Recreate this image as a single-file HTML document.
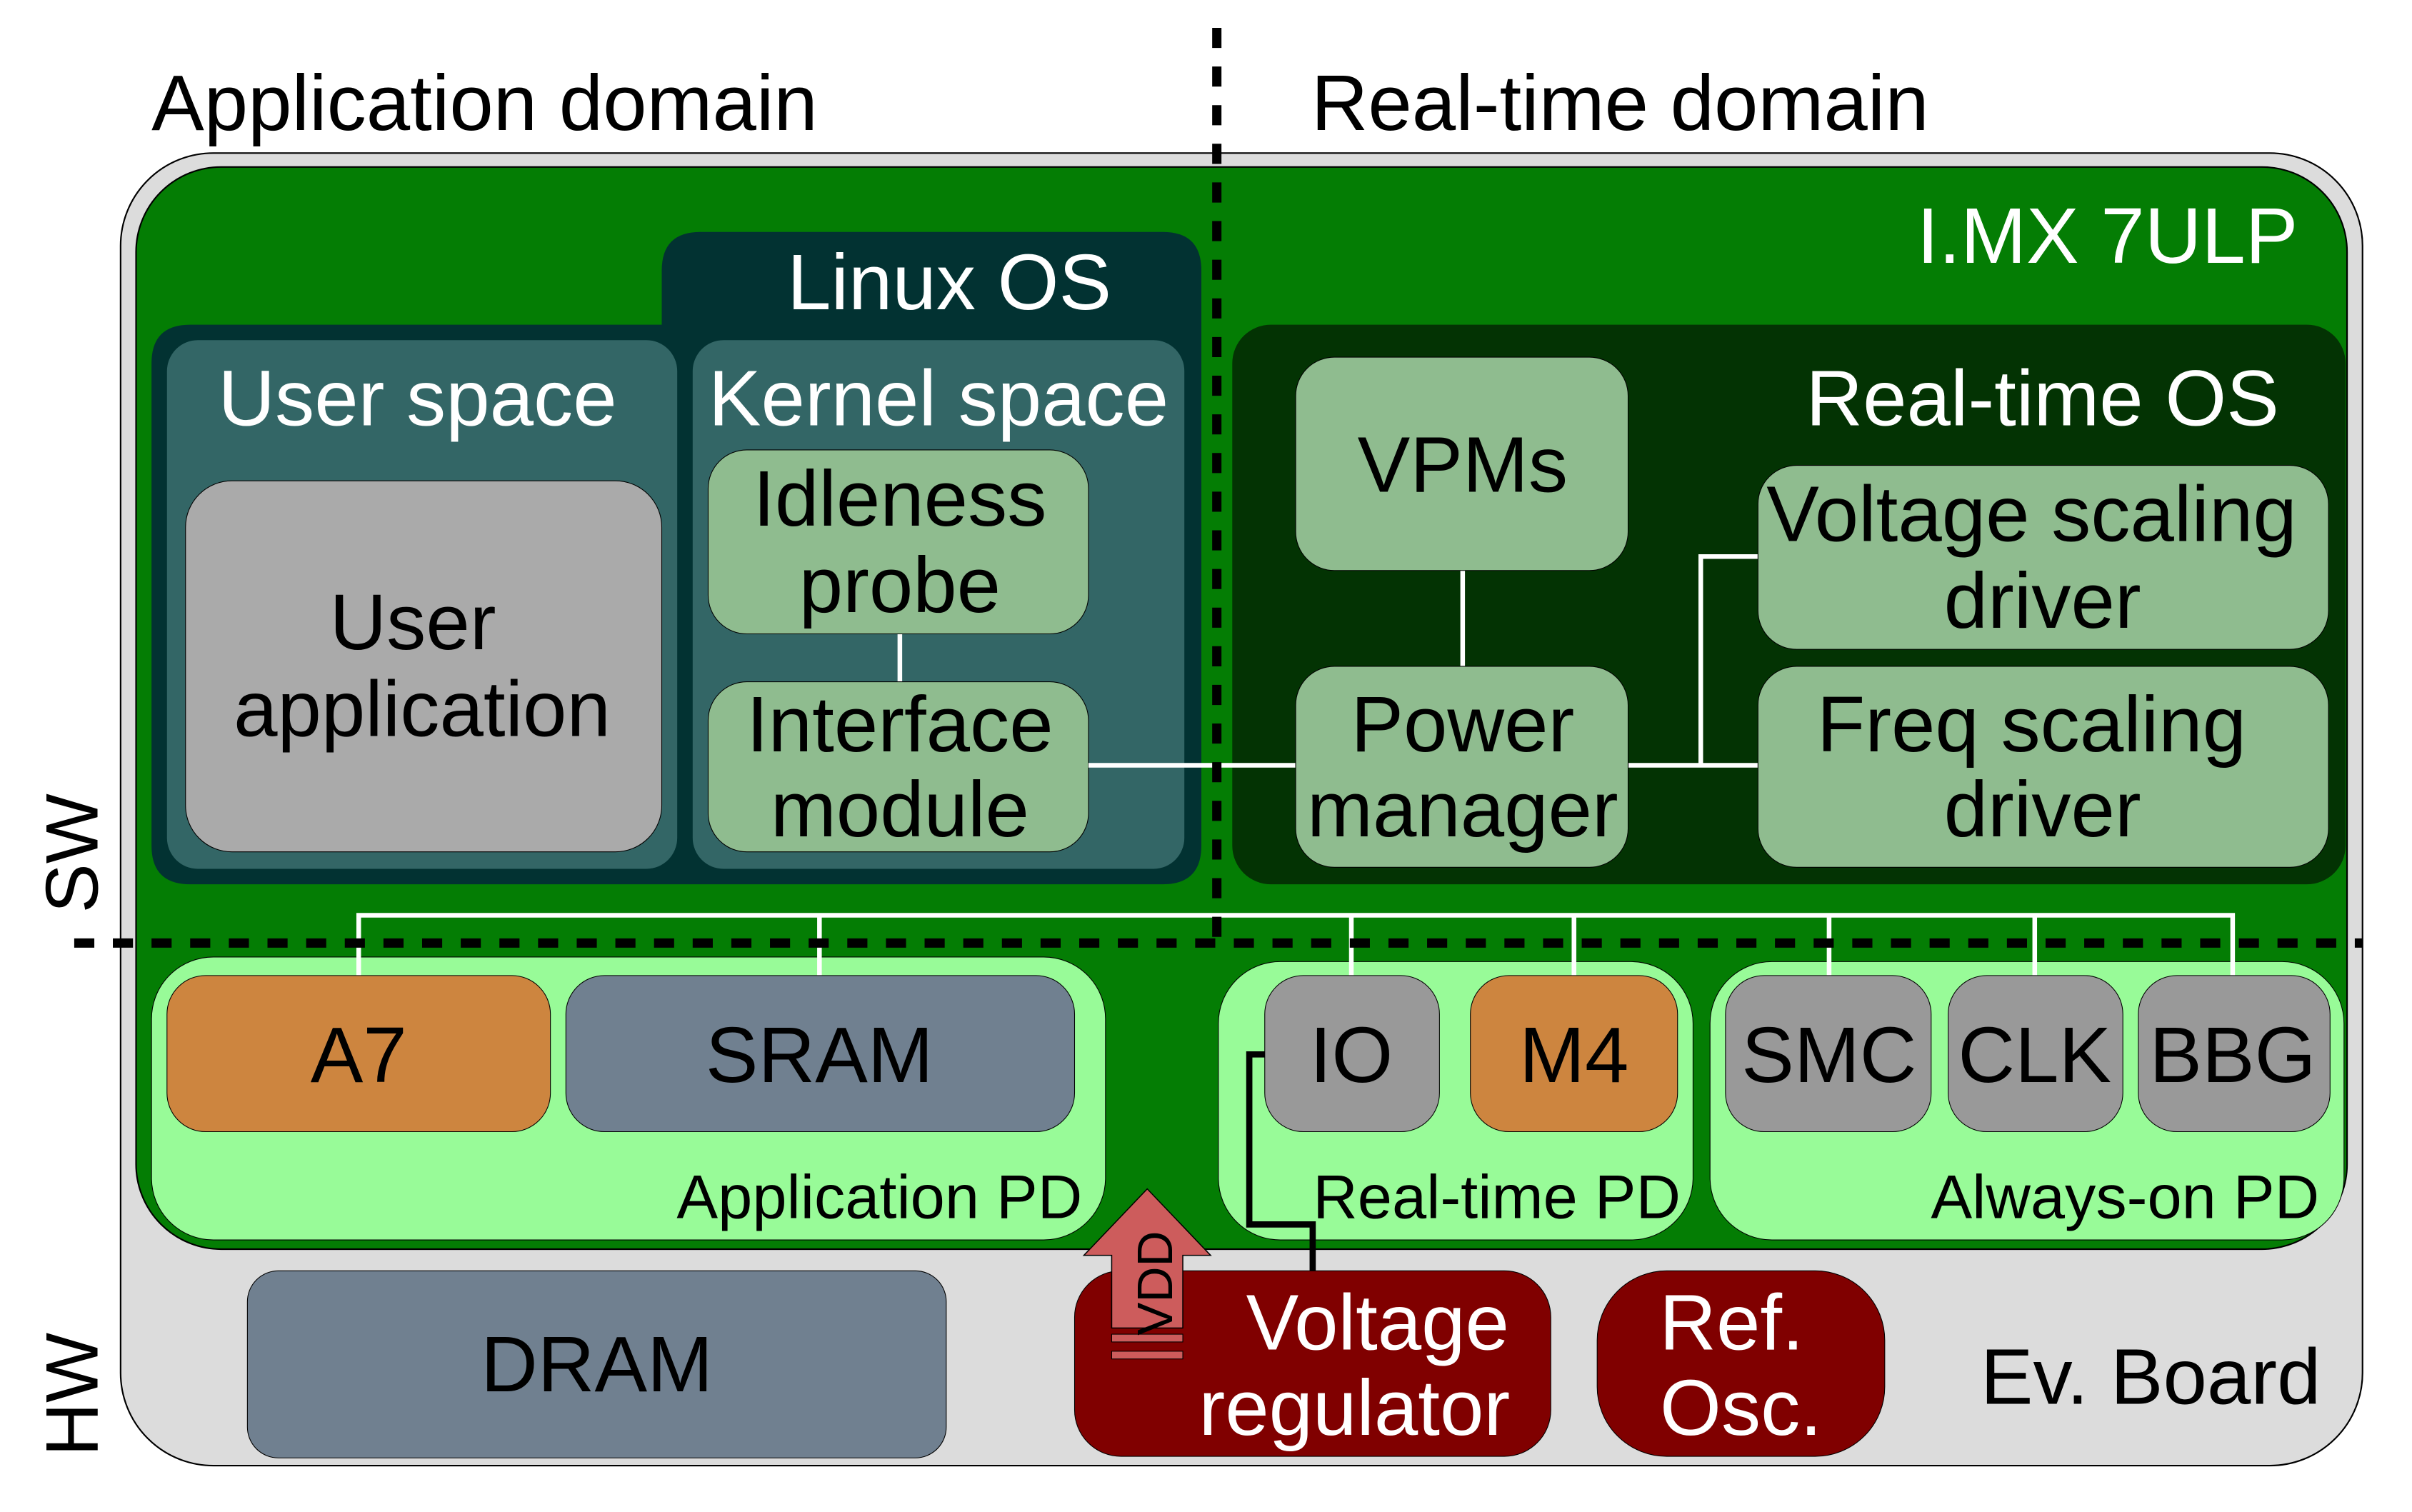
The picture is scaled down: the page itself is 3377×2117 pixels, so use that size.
<!DOCTYPE html>
<html><head><meta charset="utf-8"><style>html,body{margin:0;padding:0;background:#fff}svg{display:block}text{font-family:"Liberation Sans",sans-serif}</style></head>
<body>
<svg width="3377" height="2117" viewBox="0 0 1560 978" preserveAspectRatio="none" xmlns="http://www.w3.org/2000/svg">
<rect x="0" y="0" width="1560" height="978" fill="#fff"/>
<rect x="78" y="99" width="1450" height="849" rx="60" fill="#dcdcdc" stroke="#000" stroke-width="1"/>
<rect x="88" y="108" width="1430" height="700" rx="55" fill="#047d04" stroke="#000" stroke-width="1"/>
<path d="M453,150 H752 Q777,150 777,175 V547 Q777,572 752,572 H123 Q98,572 98,547 V235 Q98,210 123,210 H428 V175 Q428,150 453,150 Z" fill="#023232"/>
<rect x="108" y="220" width="330" height="342" rx="20" fill="#336666"/>
<rect x="448" y="220" width="318" height="342" rx="20" fill="#336666"/>
<rect x="120" y="311" width="308" height="240" rx="30" fill="#aaaaaa" stroke="#000" stroke-width="0.5"/>
<line x1="582" y1="405" x2="582" y2="445" stroke="#fff" stroke-width="3"/>
<rect x="458" y="291" width="246" height="119" rx="25" fill="#8fbc8f" stroke="#000" stroke-width="0.5"/>
<rect x="458" y="441" width="246" height="110" rx="25" fill="#8fbc8f" stroke="#000" stroke-width="0.5"/>
<rect x="797" y="210" width="720" height="362" rx="25" fill="#033303"/>
<g stroke="#fff" stroke-width="3" fill="none">
<line x1="704" y1="495" x2="840" y2="495"/>
<line x1="946" y1="365" x2="946" y2="433"/>
<line x1="1052" y1="495" x2="1139" y2="495"/>
<polyline points="1100,495 1100,360 1139,360"/>
</g>
<rect x="838" y="231" width="215" height="138" rx="25" fill="#8fbc8f" stroke="#000" stroke-width="0.5"/>
<rect x="838" y="431" width="215" height="130" rx="25" fill="#8fbc8f" stroke="#000" stroke-width="0.5"/>
<rect x="1137" y="301" width="369" height="119" rx="25" fill="#8fbc8f" stroke="#000" stroke-width="0.5"/>
<rect x="1137" y="431" width="369" height="130" rx="25" fill="#8fbc8f" stroke="#000" stroke-width="0.5"/>
<rect x="98" y="619" width="617" height="183" rx="40" fill="#98fb98" stroke="#000" stroke-width="0.5"/>
<rect x="788" y="622" width="307" height="180" rx="40" fill="#98fb98" stroke="#000" stroke-width="0.5"/>
<rect x="1106" y="622" width="410" height="180" rx="40" fill="#98fb98" stroke="#000" stroke-width="0.5"/>
<g stroke="#fff" stroke-width="3" fill="none">
<polyline points="232,633 232,592 1444,592 1444,633"/>
<line x1="530" y1="592" x2="530" y2="633"/>
<line x1="874" y1="592" x2="874" y2="633"/>
<line x1="1018" y1="592" x2="1018" y2="633"/>
<line x1="1183" y1="592" x2="1183" y2="633"/>
<line x1="1316" y1="592" x2="1316" y2="633"/>
</g>
<rect x="108" y="631" width="248" height="101" rx="25" fill="#cd853f" stroke="#000" stroke-width="0.5"/>
<rect x="366" y="631" width="329" height="101" rx="25" fill="#708090" stroke="#000" stroke-width="0.5"/>
<rect x="818" y="631" width="113" height="101" rx="25" fill="#999999" stroke="#000" stroke-width="0.5"/>
<rect x="951" y="631" width="134" height="101" rx="25" fill="#cd853f" stroke="#000" stroke-width="0.5"/>
<rect x="1116" y="631" width="133" height="101" rx="25" fill="#999999" stroke="#000" stroke-width="0.5"/>
<rect x="1260" y="631" width="113" height="101" rx="25" fill="#999999" stroke="#000" stroke-width="0.5"/>
<rect x="1383" y="631" width="124" height="101" rx="25" fill="#999999" stroke="#000" stroke-width="0.5"/>
<rect x="160" y="822" width="452" height="121" rx="20" fill="#708090" stroke="#000" stroke-width="0.5"/>
<rect x="695" y="822" width="308" height="120" rx="30" fill="#800000" stroke="#000" stroke-width="0.5"/>
<rect x="1033" y="822" width="186" height="120" rx="45" fill="#800000" stroke="#000" stroke-width="0.5"/>
<polyline points="818,682 808,682 808,792 849,792 849,822" fill="none" stroke="#000" stroke-width="4"/>
<path d="M742,769 L783,812 L765,812 L765,859 L719,859 L719,812 L701,812 Z" fill="#cd5c5c" stroke="#000" stroke-width="0.7"/>
<rect x="719" y="863" width="46" height="5" fill="#cd5c5c" stroke="#000" stroke-width="0.5"/>
<rect x="719" y="874" width="46" height="5" fill="#cd5c5c" stroke="#000" stroke-width="0.5"/>
<text transform="translate(758,830) rotate(-90)" font-size="32" text-anchor="middle" fill="#000">VDD</text>
<line x1="787" y1="18" x2="787" y2="612" stroke="#000" stroke-width="6" stroke-dasharray="13,12"/>
<line x1="48" y1="610" x2="1528" y2="610" stroke="#000" stroke-width="6" stroke-dasharray="13,12"/>
<g font-size="51" fill="#000">
<text x="98" y="84">Application domain</text>
<text x="848" y="84">Real-time domain</text>
</g>
<g fill="#fff" font-size="51" text-anchor="middle">
<text x="1363" y="170">I.MX 7ULP</text>
<text x="614" y="200">Linux OS</text>
<text x="270" y="275">User space</text>
<text x="607" y="275">Kernel space</text>
<text x="1321" y="275">Real-time OS</text>
<text x="891" y="873">Voltage</text>
<text x="876" y="928">regulator</text>
<text x="1120" y="873">Ref.</text>
<text x="1126" y="928">Osc.</text>
</g>
<g fill="#000" font-size="51" text-anchor="middle">
<text x="267" y="420">User</text>
<text x="273" y="476">application</text>
<text x="582" y="340">Idleness</text>
<text x="582" y="396">probe</text>
<text x="582" y="486">Interface</text>
<text x="582" y="541">module</text>
<text x="946" y="318">VPMs</text>
<text x="946" y="486">Power</text>
<text x="946" y="541">manager</text>
<text x="1314" y="350">Voltage scaling</text>
<text x="1321" y="406">driver</text>
<text x="1314" y="486">Freq scaling</text>
<text x="1321" y="541">driver</text>
<text x="232" y="700">A7</text>
<text x="530" y="700">SRAM</text>
<text x="874" y="700">IO</text>
<text x="1018" y="700">M4</text>
<text x="1183" y="700">SMC</text>
<text x="1316" y="700">CLK</text>
<text x="1444" y="700">BBG</text>
<text x="386" y="900">DRAM</text>
<text x="1391" y="908">Ev. Board</text>
</g>
<g fill="#000" font-size="40" text-anchor="end">
<text x="700" y="788">Application PD</text>
<text x="1087" y="788">Real-time PD</text>
<text x="1500" y="788">Always-on PD</text>
</g>
<g fill="#000" font-size="48" text-anchor="middle">
<text transform="translate(63,552) rotate(-90)">SW</text>
<text transform="translate(63,902) rotate(-90)">HW</text>
</g>
</svg>
</body></html>
